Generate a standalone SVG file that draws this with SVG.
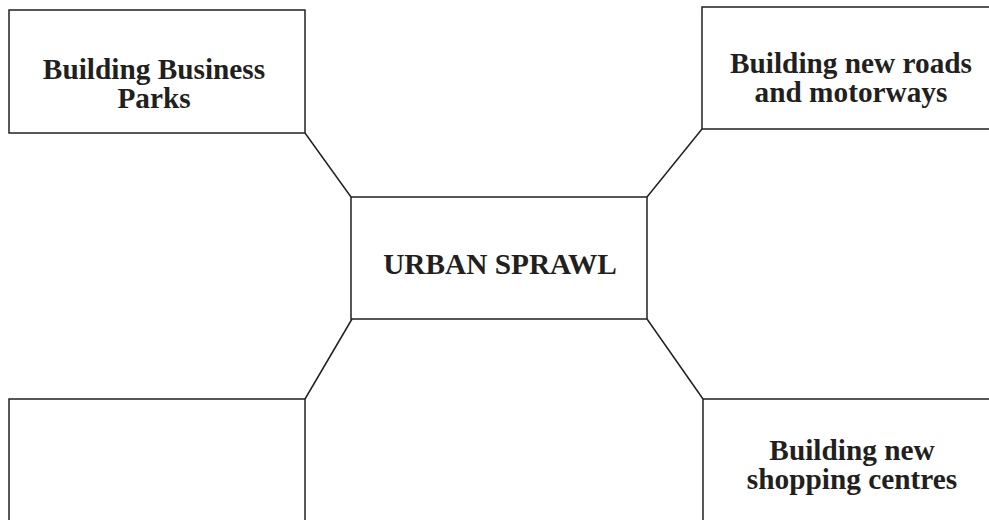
<svg xmlns="http://www.w3.org/2000/svg" width="989" height="520" viewBox="0 0 989 520">
<style>
.box{fill:#fff;stroke:#231f20;stroke-width:1.5}
.con{stroke:#231f20;stroke-width:1.5;fill:none}
.lbl{font-family:"Liberation Serif","Times New Roman",serif;font-weight:bold;font-size:29.3px;fill:#231f20;text-anchor:middle}
</style>
<rect width="989" height="520" fill="#fff"/>
<g id="connectors">
<line class="con" x1="305" y1="133" x2="351" y2="197"/>
<line class="con" x1="702" y1="129" x2="647" y2="197"/>
<line class="con" x1="305" y1="399" x2="352" y2="319"/>
<line class="con" x1="647" y1="319" x2="703" y2="399"/>
</g>
<g id="business-parks">
<rect class="box" x="9" y="10" width="296" height="123"/>
<text class="lbl" x="154" y="79">Building Business</text>
<text class="lbl" x="154" y="108">Parks</text>
</g>
<g id="roads-motorways">
<rect class="box" x="702" y="7" width="300" height="122"/>
<text class="lbl" x="851" y="73">Building new roads</text>
<text class="lbl" x="851" y="102">and motorways</text>
</g>
<g id="urban-sprawl">
<rect class="box" x="351" y="197" width="296" height="122"/>
<text class="lbl" x="500" y="274">URBAN SPRAWL</text>
</g>
<g id="empty-box">
<rect class="box" x="9" y="399" width="296" height="130"/>
</g>
<g id="shopping-centres">
<rect class="box" x="703" y="399" width="300" height="130"/>
<text class="lbl" x="852" y="460">Building new</text>
<text class="lbl" x="852" y="489">shopping centres</text>
</g>
</svg>
